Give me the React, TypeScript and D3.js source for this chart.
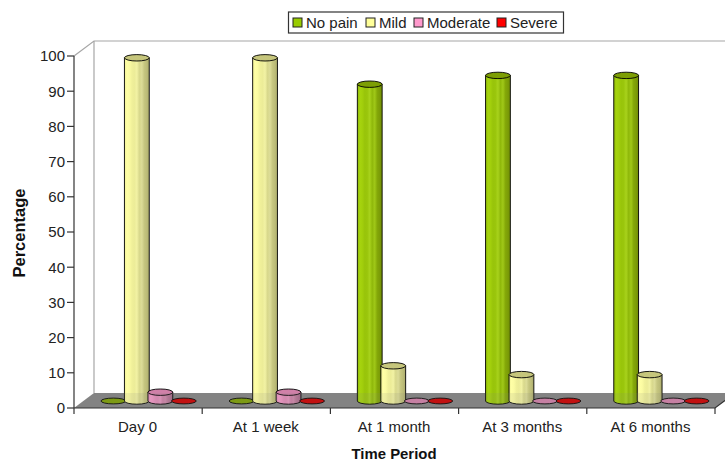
import React from "react";
import * as d3 from "d3";

const categories = ["Day 0", "At 1 week", "At 1 month", "At 3 months", "At 6 months"];
const seriesNames = ["No pain", "Mild", "Moderate", "Severe"];
const noPain = [0, 0, 90, 92.5, 92.5];
const mild = [97.5, 97.5, 10, 7.5, 7.5];
const moderate = [2.5, 2.5, 0, 0, 0];
const severe = [0, 0, 0, 0, 0];
const seriesValues = [noPain, mild, moderate, severe];
const yTicks = d3.range(0, 101, 10);

// Banded metallic shading across each cylinder, left to right
const sideColors = [
  ["#8fb80a", "#a6d40e", "#a2cf0c", "#98c40a", "#9ac60c", "#a8d21c", "#8fb80a", "#a0c818", "#84a808", "#7c9c08", "#6f8c06"],
  ["#f0f096", "#ffffa6", "#fbfba2", "#f0f09a", "#ecec98", "#f2f2a4", "#d8d88c", "#dcdc98", "#c6c680", "#bcbc78", "#aaaa6c"],
  ["#e08cb8", "#f49ac8", "#f096c4", "#e48eba", "#e08cb6", "#e496be", "#cc80a6", "#cf88aa", "#ba7898", "#b07090", "#a06884"],
  ["#dd0000", "#f00000", "#ec0000", "#e00000", "#dc0000", "#d80000", "#cc0000", "#c80000", "#bb0000", "#b00000", "#a00000"],
];
const topColors = ["#7d9e04", "#c6c67c", "#d080a8", "#cc0000"];
const legendColors = ["#99cc00", "#ffff99", "#ff99cc", "#ff0000"];

const W = 725;
const H = 461;
const FONT = "Liberation Sans, Arial, sans-serif";
const plotLeft = 74;
const plotRight = 715;
const depthX = 20;
const depthY = 15;

export default function App() {
  const y = d3.scaleLinear().domain([0, 100]).range([408, 56]);
  const x = d3.scaleBand<string>().domain(categories).range([plotLeft, plotRight]);
  const barWidth = 24.8;
  const barStep = 23.5;
  const ry = 3.2;
  const baseShift = -7;
  const groupShift = 10.5;

  const floor = [
    [plotLeft, y(0)],
    [plotLeft + depthX, y(0) - depthY],
    [plotRight + depthX, y(0) - depthY],
    [plotRight, y(0)],
  ];

  return (
    <svg
      width={W}
      height={H}
      style={{ position: "absolute", left: 0, top: 0, background: "#fff" }}
      fontFamily={FONT}
    >
      <defs>
        {sideColors.map((stops, i) => (
          <linearGradient key={i} id={`side${i}`} x1="0" x2="1" y1="0" y2="0">
            {stops.map((c, j) => (
              <stop key={j} offset={j / (stops.length - 1)} stopColor={c} />
            ))}
          </linearGradient>
        ))}
      </defs>

      {/* back and side walls */}
      <path
        d={`M${plotLeft},${y(100)}L${plotLeft + depthX},${y(100) - depthY}H${plotRight + depthX}`}
        fill="none"
        stroke="#a6a6a6"
        strokeWidth={1.2}
      />
      <path
        d={`M${plotLeft + depthX},${y(100) - depthY}V${y(0) - depthY}`}
        fill="none"
        stroke="#a6a6a6"
        strokeWidth={1.2}
      />
      <path d={`M${floor.map((p) => p.join(",")).join("L")}Z`} fill="#848484" />

      {/* cylinders, drawn series by series inside each period */}
      {categories.map((cat, ci) => {
        const groupCentre = x(cat)! + x.bandwidth() / 2 + groupShift;
        return (
          <g key={cat}>
            {seriesValues.map((vals, si) => {
              const v = vals[ci];
              const cx = groupCentre + (si - 1.5) * barStep;
              const x0 = cx - barWidth / 2;
              const x1 = cx + barWidth / 2;
              const yb = y(v) + baseShift;
              const ybase = y(0) + baseShift;
              if (v === 0) {
                return (
                  <ellipse
                    key={si}
                    cx={cx}
                    cy={ybase}
                    rx={barWidth / 2}
                    ry={ry - 0.3}
                    fill={topColors[si]}
                    stroke="#000"
                    strokeWidth={0.9}
                  />
                );
              }
              return (
                <g key={si}>
                  <path
                    d={`M${x0},${yb}V${ybase}A${barWidth / 2},${ry} 0 0 0 ${x1},${ybase}V${yb}Z`}
                    fill={`url(#side${si})`}
                    stroke="#000"
                    strokeWidth={0.9}
                  />
                  <ellipse
                    cx={cx}
                    cy={yb}
                    rx={barWidth / 2}
                    ry={ry}
                    fill={topColors[si]}
                    stroke="#000"
                    strokeWidth={0.9}
                  />
                </g>
              );
            })}
          </g>
        );
      })}

      {/* floor tint falling over the feet of the cylinders */}
      <path
        d={`M${floor.map((p) => p.join(",")).join("L")}Z`}
        fill="#848484"
        opacity={0.13}
      />

      {/* value axis */}
      <path d={`M${plotLeft},${y(100)}V${y(0)}`} stroke="#333" strokeWidth={1.2} fill="none" />
      {yTicks.map((t) => (
        <g key={t}>
          <line x1={plotLeft - 7} x2={plotLeft} y1={y(t)} y2={y(t)} stroke="#333" strokeWidth={1.2} />
          <text
            x={plotLeft - 9}
            y={y(t)}
            dy="0.36em"
            textAnchor="end"
            fontSize={15}
            fill="#222"
          >
            {t}
          </text>
        </g>
      ))}

      {/* category axis */}
      <path d={`M${plotLeft},${y(0)}H${plotRight}L${plotRight + depthX},${y(0) - depthY}`} stroke="#333" strokeWidth={1.2} fill="none" />
      {[...categories.map((c) => x(c)!), plotRight].map((tx, i) => (
        <line key={i} x1={tx} x2={tx} y1={y(0)} y2={y(0) + 6} stroke="#333" strokeWidth={1.2} />
      ))}
      {categories.map((cat) => (
        <text
          key={cat}
          x={x(cat)! + x.bandwidth() / 2 - 0.5}
          y={431.5}
          textAnchor="middle"
          fontSize={15}
          fill="#222"
        >
          {cat}
        </text>
      ))}

      <text x={394} y={459} textAnchor="middle" fontSize={14.9} fontWeight="bold" fill="#111">
        Time Period
      </text>
      <text
        transform={`translate(25,233) rotate(-90)`}
        textAnchor="middle"
        fontSize={16.5}
        fontWeight="bold"
        fill="#111"
      >
        Percentage
      </text>

      {/* legend */}
      <rect x={288.5} y={12} width={275} height={21} fill="#fff" stroke="#333" strokeWidth={1.2} />
      {seriesNames.map((name, i) => {
        const sx = [293, 366, 414, 497][i];
        return (
          <g key={name}>
            <rect x={sx} y={18} width={9} height={9} fill={legendColors[i]} stroke="#222" strokeWidth={1} />
            <text x={sx + 13} y={28} fontSize={15} fill="#222">
              {name}
            </text>
          </g>
        );
      })}
    </svg>
  );
}
